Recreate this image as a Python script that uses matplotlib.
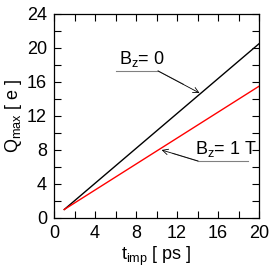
import matplotlib
matplotlib.use("Agg")
import matplotlib.pyplot as plt
from matplotlib.ticker import MultipleLocator

plt.rcParams['font.family'] = ['Liberation Sans', 'DejaVu Sans']
plt.rcParams['mathtext.fontset'] = 'custom'
plt.rcParams['mathtext.rm'] = 'Liberation Sans'
plt.rcParams['mathtext.it'] = 'Liberation Sans'

# data
t_imp = [1, 20]
q_bz0 = [1.0, 20.5]
q_bz1 = [1.0, 15.5]

fig = plt.figure(figsize=(2.73, 2.68), dpi=100)
ax = fig.add_axes([54/273, 1 - 218/268, 205/273, 204/268])

ax.plot(t_imp, q_bz0, color='black', lw=1.0)
ax.plot(t_imp, q_bz1, color='red', lw=1.0)

ax.set_xlim(0, 20)
ax.set_ylim(0, 24)
ax.xaxis.set_major_locator(MultipleLocator(4))
ax.xaxis.set_minor_locator(MultipleLocator(2))
ax.yaxis.set_major_locator(MultipleLocator(4))
ax.yaxis.set_minor_locator(MultipleLocator(2))
ax.tick_params(which='both', direction='in', top=True, right=True,
               labelsize=13, width=0.8, pad=5)
ax.tick_params(which='major', length=5)
ax.tick_params(which='minor', length=5)
for s in ax.spines.values():
    s.set_linewidth(0.9)

ax.set_xlabel(r'$\mathrm{t_{imp}}$ [ ps ]', fontsize=13, labelpad=2)
ax.set_ylabel(r'$\mathrm{Q_{max}}$ [ e ]', fontsize=13, labelpad=2)

# annotations
ax.text(6.3, 18.1, r'B$_\mathrm{z}$= 0', fontsize=13)
ax.plot([6.05, 10.15], [17.3, 17.3], color='gray', lw=0.8)
ax.annotate('', xy=(14.2, 14.7), xytext=(10.15, 17.3),
            arrowprops=dict(arrowstyle='->', color='black', lw=0.6,
                            shrinkA=0, shrinkB=0))
ax.plot([10.15, 12.6], [17.3, 15.75], color='gray', lw=0.8)

ax.text(13.75, 7.5, r'B$_\mathrm{z}$= 1 T', fontsize=13)
ax.plot([14.05, 18.9], [6.7, 6.7], color='gray', lw=0.8)
ax.annotate('', xy=(10.5, 8.0), xytext=(14.05, 6.7),
            arrowprops=dict(arrowstyle='->', color='black', lw=0.6,
                            shrinkA=0, shrinkB=0))
ax.plot([11.6, 14.05], [7.6, 6.7], color='gray', lw=0.8)

fig.savefig('out.png', dpi=100)
